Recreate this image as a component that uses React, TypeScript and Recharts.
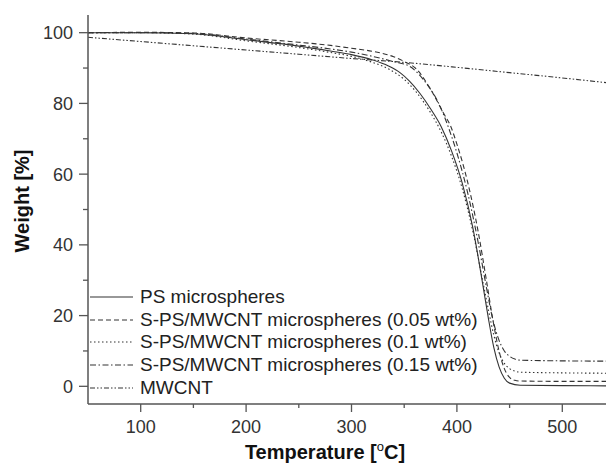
import React from 'react';
import { LineChart, Line, XAxis, YAxis, Legend } from 'recharts';

// TGA curves, temperature [°C] vs remaining weight [%]
const psTemp = [50, 100, 150, 200, 250, 280, 300, 320, 335, 346, 355, 365, 375, 385, 395, 405, 415, 425, 430, 435, 440, 445, 450, 460, 500, 550];
const psWeight = [100, 100, 99.7, 98, 96.2, 94.8, 93.8, 92.3, 90.6, 88.7, 86.3, 82.8, 78.5, 73.5, 66.5, 57.5, 45, 28, 19, 11, 5.5, 2.3, 0.9, 0.3, 0.2, 0.1];

const cnt005Temp = [50, 100, 150, 200, 250, 280, 300, 327, 340, 349, 362, 375, 387, 394, 400, 410, 420, 428, 434, 440, 445, 450, 455, 460, 500, 550];
const cnt005Weight = [100, 100.1, 99.9, 98.5, 97.3, 96.4, 95.6, 94.3, 93.2, 92, 89.6, 84, 77.4, 73.6, 68.5, 58, 44, 30, 19, 10, 5, 2.5, 1.7, 1.5, 1.4, 1.4];

const cnt01Temp = [50, 100, 150, 200, 250, 280, 300, 320, 336, 350, 362, 375, 385, 395, 405, 415, 425, 430, 435, 440, 445, 450, 455, 460, 500, 550];
const cnt01Weight = [100, 100, 99.6, 97.7, 95.8, 94.4, 93.3, 91.6, 89.6, 86.8, 83, 77.4, 72, 65, 56, 44, 29, 21.5, 14.5, 9.5, 6.5, 5, 4.3, 4, 3.8, 3.7];

const cnt015Temp = [50, 100, 150, 200, 250, 280, 300, 320, 340, 355, 368, 384, 392, 400, 410, 420, 428, 434, 440, 445, 450, 455, 460, 500, 550];
const cnt015Weight = [100, 100, 99.8, 98.2, 96.5, 95.4, 94.5, 93.3, 91.8, 90.5, 86.8, 79.2, 73.2, 66, 55, 41, 28, 19, 13, 10, 8.5, 7.7, 7.4, 7.2, 7.1];

const mwcntTemp = [50, 100, 150, 200, 250, 300, 350, 400, 450, 500, 550];
const mwcntWeight = [98.7, 97.5, 96.3, 95.1, 93.9, 92.7, 91.6, 90.2, 88.7, 87.2, 85.6];

const xTicks = [100, 150, 200, 250, 300, 350, 400, 450, 500];
const yTicks = [0, 10, 20, 30, 40, 50, 60, 70, 80, 90, 100];

const toPoints = (temp: number[], weight: number[]) => temp.map((t, i) => ({ t, w: weight[i] }));

const series = [
  { name: 'PS microspheres', data: toPoints(psTemp, psWeight), dash: undefined },
  { name: 'S-PS/MWCNT microspheres (0.05 wt%)', data: toPoints(cnt005Temp, cnt005Weight), dash: '5 3' },
  { name: 'S-PS/MWCNT microspheres (0.1 wt%)', data: toPoints(cnt01Temp, cnt01Weight), dash: '1.5 2.5' },
  { name: 'S-PS/MWCNT microspheres (0.15 wt%)', data: toPoints(cnt015Temp, cnt015Weight), dash: '6 2.5 1.5 2.5' },
  { name: 'MWCNT', data: toPoints(mwcntTemp, mwcntWeight), dash: '5 2 1.5 2 1.5 2' },
];

const FONT = 'Arial, "Liberation Sans", sans-serif';
const INK = '#333';
const AXIS = '#555';

const XTick = (props: any) => {
  const { x, y, payload } = props;
  const major = payload.value % 100 === 0;
  return (
    <g>
      <line x1={x} x2={x} y1={y} y2={y + (major ? 8 : 4)} stroke={AXIS} strokeWidth={1.3} />
      {major && (
        <text x={x} y={y + 29} textAnchor="middle" fontSize={18} fontFamily={FONT} fill={INK}>
          {payload.value}
        </text>
      )}
    </g>
  );
};

const YTick = (props: any) => {
  const { x, y, payload } = props;
  const major = payload.value % 20 === 0;
  return (
    <g>
      <line x1={x - (major ? 9 : 5)} x2={x} y1={y} y2={y} stroke={AXIS} strokeWidth={1.3} />
      {major && (
        <text x={x - 15} y={y + 6.5} textAnchor="end" fontSize={18} fontFamily={FONT} fill={INK}>
          {payload.value}
        </text>
      )}
    </g>
  );
};

const LegendBox = () => (
  <div style={{ fontFamily: FONT, fontSize: 19, color: '#222' }}>
    {series.map(s => (
      <div key={s.name} style={{ height: 22.7, display: 'flex', alignItems: 'center', whiteSpace: 'nowrap' }}>
        <svg width={50} height={10} style={{ flex: 'none' }}>
          <line x1={0} x2={43} y1={5} y2={5} stroke={INK} strokeWidth={1.1} strokeDasharray={s.dash} />
        </svg>
        <span>{s.name}</span>
      </div>
    ))}
  </div>
);

export default function App() {
  return (
    <div style={{ position: 'fixed', left: 0, top: 0, width: 606, height: 464, overflow: 'hidden', background: '#fff' }}>
      <LineChart width={620} height={464} margin={{ top: 15, right: 5, bottom: 30, left: 48 }}>
        <XAxis
          xAxisId="top"
          orientation="top"
          type="number"
          domain={[50, 550]}
          height={0}
          tick={false}
          tickLine={false}
          axisLine={{ stroke: AXIS, strokeWidth: 2 }}
        />
        <XAxis
          type="number"
          dataKey="t"
          domain={[50, 550]}
          ticks={xTicks}
          height={30}
          tickSize={0}
          tickMargin={0}
          tickLine={false}
          axisLine={{ stroke: AXIS, strokeWidth: 1.5 }}
          tick={<XTick />}
          allowDataOverflow
          label={{
            content: () => (
              <text x={325} y={459} textAnchor="middle" fontSize={20} fontWeight="bold" fontFamily={FONT} fill="#111">
                Temperature [<tspan dy={-8} fontSize={13} fontWeight="normal">o</tspan>
                <tspan dy={8}>C]</tspan>
              </text>
            ),
          }}
        />
        <YAxis
          type="number"
          domain={[-5, 105]}
          ticks={yTicks}
          width={40}
          tickSize={0}
          tickMargin={0}
          tickLine={false}
          axisLine={{ stroke: AXIS, strokeWidth: 1.5 }}
          tick={<YTick />}
          allowDataOverflow
          label={{
            content: () => (
              <text transform="translate(29,201) rotate(-90)" textAnchor="middle" fontSize={20} fontWeight="bold" fontFamily={FONT} fill="#111">
                Weight [%]
              </text>
            ),
          }}
        />
        <Legend
          layout="vertical"
          align="center"
          verticalAlign="middle"
          content={<LegendBox />}
          wrapperStyle={{ position: 'absolute', left: 90, top: 285.6, width: 'auto', height: 'auto' }}
        />
        {series.map(s => (
          <Line
            key={s.name}
            data={s.data}
            dataKey="w"
            name={s.name}
            type="monotone"
            stroke={INK}
            strokeWidth={1.1}
            strokeDasharray={s.dash}
            dot={false}
            activeDot={false}
            isAnimationActive={false}
          />
        ))}
      </LineChart>
    </div>
  );
}
